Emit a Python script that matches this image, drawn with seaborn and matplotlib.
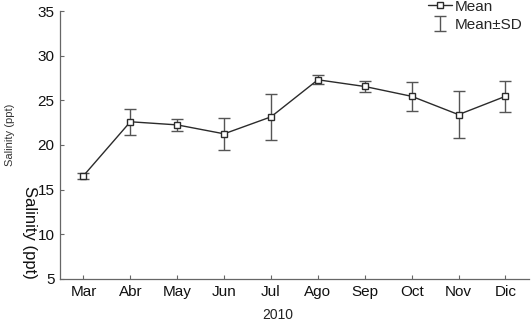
import matplotlib
matplotlib.use("Agg")
import matplotlib.pyplot as plt
import pandas as pd
import seaborn as sns

MONTHS = ["Mar", "Abr", "May", "Jun", "Jul", "Ago", "Sep", "Oct", "Nov", "Dic"]
MEAN = [16.55, 22.6, 22.25, 21.25, 23.15, 27.3, 26.55, 25.45, 23.4, 25.45]
SD = [0.35, 1.45, 0.7, 1.8, 2.55, 0.5, 0.67, 1.65, 2.6, 1.75]

sns.set_style("ticks")
plt.rcParams["font.family"] = ["Liberation Sans", "DejaVu Sans"]

df = pd.DataFrame({"month": MONTHS, "mean": MEAN, "sd": SD})
df["pos"] = range(len(df))

fig = plt.figure(figsize=(5.31, 3.24), dpi=100)
ax = fig.add_axes([0.113, 0.139, 0.883, 0.827])

ax.errorbar(df["pos"], df["mean"], yerr=df["sd"], fmt="none", ecolor="#555555",
            elinewidth=1, capsize=4.5, capthick=1, label="Mean\u00b1SD", zorder=2)
sns.lineplot(data=df, x="pos", y="mean", ax=ax, color="#2b2b2b", linewidth=1,
             marker="s", markersize=4.8, markerfacecolor="white",
             markeredgecolor="#2b2b2b", markeredgewidth=1, label="Mean", zorder=3)

ax.set_xlim(-0.5, 9.5)
ax.set_ylim(5, 35)
ax.set_xticks(df["pos"])
ax.set_xticklabels(MONTHS, fontsize=11)
ax.set_yticks(range(5, 36, 5))
ax.set_yticklabels([str(v) for v in range(5, 36, 5)], fontsize=11)
ax.tick_params(direction="in", length=3, width=0.8, color="#666666", pad=4,
               labelcolor="#111111")
for s in ["top", "right"]:
    ax.spines[s].set_visible(False)
for s in ["left", "bottom"]:
    ax.spines[s].set_color("#666666")
    ax.spines[s].set_linewidth(0.9)

ax.set_xlabel("")
ax.set_ylabel("")
fig.text(278 / 531, 1 - 315 / 324, "2010", ha="center", va="center",
         fontsize=10, color="#222222")
fig.text(10 / 531, 1 - 135 / 324, "Salinity (ppt)", rotation=90, ha="center",
         va="center", fontsize=8, color="#333333")
fig.text(29 / 531, 1 - 232 / 324, "Salinity (ppt)", rotation=-90, ha="center",
         va="center", fontsize=12, color="#111111")

h, l = ax.get_legend_handles_labels()
order = [l.index("Mean"), l.index("Mean\u00b1SD")]
ax.legend([h[i] for i in order], [l[i] for i in order], loc="upper left",
          bbox_to_anchor=(420 / 531, 1.025), bbox_transform=fig.transFigure,
          frameon=False, borderpad=0, handlelength=1.6, handletextpad=0.2,
          labelspacing=0.3, prop={"size": 11})

fig.savefig("out.png", dpi=100)
